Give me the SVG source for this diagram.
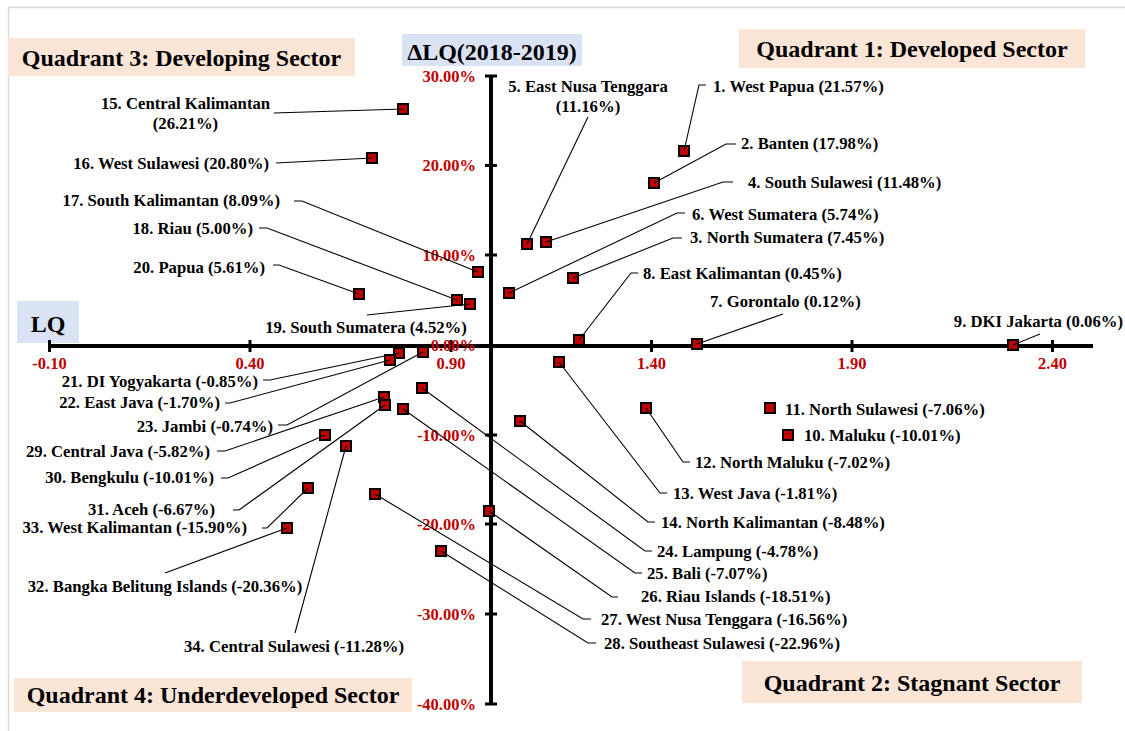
<svg xmlns="http://www.w3.org/2000/svg" width="1125" height="731" viewBox="0 0 1125 731">
<style>
text{font-family:"Liberation Serif","Times New Roman",serif;font-weight:bold}
.lbl{font-size:16.7px;fill:#000}
.tk{font-size:16.5px;fill:#C00000}
.ttl{font-size:24px;fill:#000}
.mk{fill:#C00000;stroke:#000;stroke-width:2}
.ld{fill:none;stroke:#000;stroke-width:1.1}
.ax{stroke:#000;stroke-width:4;fill:none}
.q{fill:#FBE5D6}
.b{fill:#DAE3F3}
.e{text-anchor:end}
.m{text-anchor:middle}
</style>
<rect x="0" y="0" width="1125" height="731" fill="#fff"/>
<rect x="8.5" y="7.5" width="1140" height="740" fill="none" stroke="#d9d9d9" stroke-width="1.5"/>

<g id="titles">
<rect class="q" x="8" y="38" width="347" height="38"/>
<text class="ttl m" x="181.5" y="66">Quadrant 3: Developing Sector</text>
<rect class="q" x="739" y="29" width="346" height="39"/>
<text class="ttl m" x="912" y="57">Quadrant 1: Developed Sector</text>
<rect class="q" x="14" y="678" width="398" height="34"/>
<text class="ttl m" x="213" y="703">Quadrant 4: Underdeveloped Sector</text>
<rect class="q" x="742" y="661" width="340" height="42"/>
<text class="ttl m" x="912" y="691">Quadrant 2: Stagnant Sector</text>
<rect class="b" x="402" y="34" width="180" height="32"/>
<text class="ttl m" x="492" y="60">ΔLQ(2018-2019)</text>
<rect class="b" x="17" y="301" width="62" height="42"/>
<text class="ttl m" x="48" y="332">LQ</text>
</g>

<g id="axes">
<line class="ax" x1="49" y1="346" x2="1093" y2="346"/>
<line class="ax" x1="491" y1="76" x2="491" y2="704"/>
<g stroke="#000" stroke-width="3">
<line x1="49.5" y1="340" x2="49.5" y2="352"/>
<line x1="250" y1="340" x2="250" y2="352"/>
<line x1="451" y1="340" x2="451" y2="352"/>
<line x1="651.5" y1="340" x2="651.5" y2="352"/>
<line x1="852" y1="340" x2="852" y2="352"/>
<line x1="1052.5" y1="340" x2="1052.5" y2="352"/>
<line x1="485" y1="76" x2="497" y2="76"/>
<line x1="485" y1="165.5" x2="497" y2="165.5"/>
<line x1="485" y1="255" x2="497" y2="255"/>
<line x1="485" y1="435" x2="497" y2="435"/>
<line x1="485" y1="524" x2="497" y2="524"/>
<line x1="485" y1="614" x2="497" y2="614"/>
<line x1="485" y1="704" x2="497" y2="704"/>
</g>
<text class="tk m" x="49.5" y="369">-0.10</text>
<text class="tk m" x="250" y="369">0.40</text>
<text class="tk m" x="451" y="369">0.90</text>
<text class="tk m" x="651.5" y="369">1.40</text>
<text class="tk m" x="852" y="369">1.90</text>
<text class="tk m" x="1052.5" y="369">2.40</text>
<text class="tk e" x="476" y="82">30.00%</text>
<text class="tk e" x="476" y="171">20.00%</text>
<text class="tk e" x="476" y="261">10.00%</text>
<text class="tk e" x="476" y="351">0.00%</text>
<text class="tk e" x="476" y="441">-10.00%</text>
<text class="tk e" x="476" y="530">-20.00%</text>
<text class="tk e" x="476" y="620">-30.00%</text>
<text class="tk e" x="476" y="710">-40.00%</text>
</g>

<g id="nodes">
<g id="n1"><rect class="mk" x="679" y="146" width="10" height="10"/><text class="lbl" x="713" y="92">1. West Papua (21.57%)</text></g>
<g id="n2"><rect class="mk" x="649" y="178" width="10" height="10"/><text class="lbl" x="741" y="149">2. Banten (17.98%)</text></g>
<g id="n3"><rect class="mk" x="568" y="273" width="10" height="10"/><text class="lbl" x="690" y="243">3. North Sumatera (7.45%)</text></g>
<g id="n4"><rect class="mk" x="541" y="237" width="10" height="10"/><text class="lbl" x="748" y="188">4. South Sulawesi (11.48%)</text></g>
<g id="n5"><rect class="mk" x="522" y="239" width="10" height="10"/><text class="lbl m" x="588" y="92">5. East Nusa Tenggara</text><text class="lbl m" x="588" y="112">(11.16%)</text></g>
<g id="n6"><rect class="mk" x="504" y="288" width="10" height="10"/><text class="lbl" x="692" y="220">6. West Sumatera (5.74%)</text></g>
<g id="n7"><rect class="mk" x="692" y="339" width="10" height="10"/><text class="lbl" x="710" y="307">7. Gorontalo (0.12%)</text></g>
<g id="n8"><rect class="mk" x="574" y="335" width="10" height="10"/><text class="lbl" x="643" y="279">8. East Kalimantan (0.45%)</text></g>
<g id="n9"><rect class="mk" x="1008" y="340" width="10" height="10"/><text class="lbl e" x="1123" y="327">9. DKI Jakarta (0.06%)</text></g>
<g id="n10"><rect class="mk" x="783" y="430" width="10" height="10"/><text class="lbl" x="804" y="441">10. Maluku (-10.01%)</text></g>
<g id="n11"><rect class="mk" x="765" y="403" width="10" height="10"/><text class="lbl" x="785" y="415">11. North Sulawesi (-7.06%)</text></g>
<g id="n12"><rect class="mk" x="641" y="403" width="10" height="10"/><text class="lbl" x="695" y="468">12. North Maluku (-7.02%)</text></g>
<g id="n13"><rect class="mk" x="554" y="357" width="10" height="10"/><text class="lbl" x="673" y="499">13. West Java (-1.81%)</text></g>
<g id="n14"><rect class="mk" x="515" y="416" width="10" height="10"/><text class="lbl" x="661" y="528">14. North Kalimantan (-8.48%)</text></g>
<g id="n15"><rect class="mk" x="398" y="104" width="10" height="10"/><text class="lbl m" x="185.5" y="109">15. Central Kalimantan</text><text class="lbl m" x="185.5" y="129">(26.21%)</text></g>
<g id="n16"><rect class="mk" x="367" y="153" width="10" height="10"/><text class="lbl e" x="269" y="169">16. West Sulawesi (20.80%)</text></g>
<g id="n17"><rect class="mk" x="473" y="267" width="10" height="10"/><text class="lbl e" x="280" y="206">17. South Kalimantan (8.09%)</text></g>
<g id="n18"><rect class="mk" x="452" y="295" width="10" height="10"/><text class="lbl e" x="253" y="234">18. Riau (5.00%)</text></g>
<g id="n19"><rect class="mk" x="465" y="299" width="10" height="10"/><text class="lbl m" x="366" y="333">19. South Sumatera (4.52%)</text></g>
<g id="n20"><rect class="mk" x="354" y="289" width="10" height="10"/><text class="lbl e" x="265" y="273">20. Papua (5.61%)</text></g>
<g id="n21"><rect class="mk" x="394" y="348" width="10" height="10"/><text class="lbl e" x="258" y="387">21. DI Yogyakarta (-0.85%)</text></g>
<g id="n22"><rect class="mk" x="385" y="355" width="10" height="10"/><text class="lbl e" x="220" y="408">22. East Java (-1.70%)</text></g>
<g id="n23"><rect class="mk" x="418" y="347" width="10" height="10"/><text class="lbl e" x="273" y="432">23. Jambi (-0.74%)</text></g>
<g id="n24"><rect class="mk" x="417" y="383" width="10" height="10"/><text class="lbl" x="657" y="557">24. Lampung (-4.78%)</text></g>
<g id="n25"><rect class="mk" x="398" y="404" width="10" height="10"/><text class="lbl" x="647" y="579">25. Bali (-7.07%)</text></g>
<g id="n26"><rect class="mk" x="484" y="506" width="10" height="10"/><text class="lbl" x="641" y="602">26. Riau Islands (-18.51%)</text></g>
<g id="n27"><rect class="mk" x="370" y="489" width="10" height="10"/><text class="lbl" x="601" y="625">27. West Nusa Tenggara (-16.56%)</text></g>
<g id="n28"><rect class="mk" x="436" y="546" width="10" height="10"/><text class="lbl" x="604" y="649">28. Southeast Sulawesi (-22.96%)</text></g>
<g id="n29"><rect class="mk" x="379" y="392" width="10" height="10"/><text class="lbl e" x="210" y="457">29. Central Java (-5.82%)</text></g>
<g id="n30"><rect class="mk" x="320" y="430" width="10" height="10"/><text class="lbl e" x="214" y="483">30. Bengkulu (-10.01%)</text></g>
<g id="n31"><rect class="mk" x="380" y="400" width="10" height="10"/><text class="lbl e" x="215" y="515">31. Aceh (-6.67%)</text></g>
<g id="n32"><rect class="mk" x="282" y="523" width="10" height="10"/><text class="lbl m" x="165" y="592">32. Bangka Belitung Islands (-20.36%)</text></g>
<g id="n33"><rect class="mk" x="303" y="483" width="10" height="10"/><text class="lbl e" x="247" y="533">33. West Kalimantan (-15.90%)</text></g>
<g id="n34"><rect class="mk" x="341" y="441" width="10" height="10"/><text class="lbl m" x="294" y="652">34. Central Sulawesi (-11.28%)</text></g>
</g>

<g id="connectors" class="ld">
<polyline points="706,85 699,85 684,151"/>
<polyline points="736,144 726,144 654,183"/>
<polyline points="682,238 673,238 573,278"/>
<polyline points="733,182 723,182 546,242"/>
<polyline points="588,117 527,244"/>
<polyline points="685,213 677,213 509,293"/>
<polyline points="783,314 697,344"/>
<polyline points="638,273 631,273 579,340"/>
<polyline points="1040,334 1013,345"/>
<polyline points="690,462 683,462 646,408"/>
<polyline points="667,493 660,493 559,362"/>
<polyline points="655,522 648,522 520,421"/>
<polyline points="274,113 403,109"/>
<polyline points="276,163 372,158"/>
<polyline points="294,201 302,201 478,272"/>
<polyline points="259,228 267,228 457,300"/>
<polyline points="367,315 470,304"/>
<polyline points="273,265 279,265 359,294"/>
<polyline points="263,380 270,380 399,353"/>
<polyline points="225,403 230,403 390,360"/>
<polyline points="278,425 287,425 423,352"/>
<polyline points="652,551 645,551 422,388"/>
<polyline points="642,573 635,573 403,409"/>
<polyline points="618,597 612,597 489,511"/>
<polyline points="591,619 583,619 375,494"/>
<polyline points="596,643 588,643 441,551"/>
<polyline points="217,451 225,451 384,397"/>
<polyline points="221,478 228,478 325,435"/>
<polyline points="233,510 239,510 385,405"/>
<polyline points="165,573 287,528"/>
<polyline points="262,528 267,528 308,488"/>
<polyline points="295,633 346,446"/>
</g>
</svg>
